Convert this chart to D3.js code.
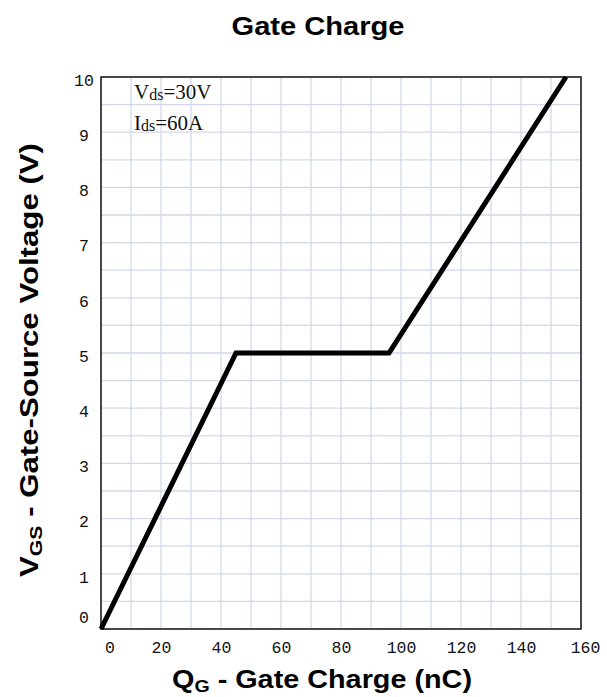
<!DOCTYPE html>
<html>
<head>
<meta charset="utf-8">
<script src="https://cdn.jsdelivr.net/npm/d3@7"></script>
<style>
  html, body { margin: 0; padding: 0; background: #fff; }
  svg { display: block; }
</style>
</head>
<body>
<svg id="chart" width="607" height="697"></svg>
<script>
// ---- data ----
const chargeNC = [0, 45, 96, 155];        // Q_G (nC)
const gateVolts = [0, 5, 5, 10];          // V_GS (V)
const xTickValues = [0, 20, 40, 60, 80, 100, 120, 140, 160];
const yTickValues = [0, 1, 2, 3, 4, 5, 6, 7, 8, 9, 10];
const xGridValues = d3.range(0, 161, 10);
const yGridValues = d3.range(0, 10.01, 0.5);
const annotations = [
  { main: "V", sub: "ds", rest: "=30V" },
  { main: "I", sub: "ds", rest: "=60A" }
];

// ---- layout ----
const svg = d3.select("#chart");
const plotL = 101, plotR = 581, plotT = 77, plotB = 629;

const x = d3.scaleLinear().domain([0, 160]).range([plotL, plotR]);
const y = d3.scaleLinear().domain([0, 10]).range([plotB, plotT]);

// grid
const gridColor = "#d3d9ea";
svg.append("g").selectAll("line").data(xGridValues).join("line")
  .attr("x1", d => x(d)).attr("x2", d => x(d))
  .attr("y1", plotT).attr("y2", plotB)
  .attr("stroke", gridColor).attr("stroke-width", 1.3);
svg.append("g").selectAll("line").data(yGridValues).join("line")
  .attr("x1", plotL).attr("x2", plotR)
  .attr("y1", d => y(d)).attr("y2", d => y(d))
  .attr("stroke", gridColor).attr("stroke-width", 1.3);

// frame
svg.append("rect")
  .attr("x", plotL).attr("y", plotT)
  .attr("width", plotR - plotL).attr("height", plotB - plotT)
  .attr("fill", "none").attr("stroke", "#222").attr("stroke-width", 1.6);

// axes (labels only, no tick marks)
const tickFont = "'Liberation Mono', 'DejaVu Sans Mono', monospace";
const xAxis = d3.axisBottom(x).tickValues(xTickValues).tickSize(0).tickPadding(0);
const gx = svg.append("g").attr("transform", `translate(0,${plotB})`).call(xAxis);
gx.select(".domain").remove();
gx.selectAll("text")
  .attr("font-family", tickFont)
  .attr("font-size", 16.5).attr("fill", "#111")
  .attr("dy", null).attr("y", 24)
  .attr("dx", d => d === 0 ? 8.5 : (d === 160 ? 4 : 0));

const yAxis = d3.axisLeft(y).tickValues(yTickValues).tickSize(0).tickPadding(0);
const gy = svg.append("g").attr("transform", `translate(${plotL},0)`).call(yAxis);
gy.select(".domain").remove();
gy.selectAll("text")
  .attr("font-family", tickFont)
  .attr("font-size", 16.5).attr("fill", "#111")
  .attr("text-anchor", "middle").attr("x", -17)
  .attr("dy", d => d === 0 ? "-0.42em" : "0.5em");

// curve
const line = d3.line().x((d, i) => x(chargeNC[i])).y((d, i) => y(gateVolts[i]));
svg.append("path")
  .datum(chargeNC)
  .attr("d", line)
  .attr("fill", "none").attr("stroke", "#000")
  .attr("stroke-width", 5).attr("stroke-linejoin", "miter");

// annotations
const ann = svg.append("g")
  .attr("font-family", "'Liberation Serif', 'DejaVu Serif', serif")
  .attr("fill", "#111");
annotations.forEach((a, i) => {
  const t = ann.append("text")
    .attr("x", 134).attr("y", 99 + i * 31)
    .attr("font-size", 21);
  t.append("tspan").text(a.main);
  t.append("tspan").attr("font-size", 16).attr("dy", 1).text(a.sub);
  t.append("tspan").attr("dy", -1).text(a.rest);
});

// title
svg.append("text")
  .attr("x", 318).attr("y", 35)
  .attr("text-anchor", "middle")
  .attr("font-family", "'Liberation Sans', Arial, sans-serif")
  .attr("font-weight", "bold").attr("font-size", 25)
  .attr("textLength", 173).attr("lengthAdjust", "spacingAndGlyphs")
  .text("Gate Charge");

// x axis title
const xt = svg.append("text")
  .attr("x", 322).attr("y", 688)
  .attr("text-anchor", "middle")
  .attr("font-family", "'Liberation Sans', Arial, sans-serif")
  .attr("font-weight", "bold").attr("font-size", 25)
  .attr("textLength", 300).attr("lengthAdjust", "spacingAndGlyphs");
xt.append("tspan").text("Q");
xt.append("tspan").attr("font-size", 17).attr("dy", 4).text("G");
xt.append("tspan").attr("dy", -4).text(" - Gate Charge (nC)");

// y axis title
const yt = svg.append("text")
  .attr("transform", `translate(38,360) rotate(-90)`)
  .attr("text-anchor", "middle")
  .attr("font-family", "'Liberation Sans', Arial, sans-serif")
  .attr("font-weight", "bold").attr("font-size", 25)
  .attr("textLength", 434).attr("lengthAdjust", "spacingAndGlyphs");
yt.append("tspan").text("V");
yt.append("tspan").attr("font-size", 17).attr("dy", 4).text("GS");
yt.append("tspan").attr("dy", -4).text(" - Gate-Source Voltage (V)");
</script>
</body>
</html>
